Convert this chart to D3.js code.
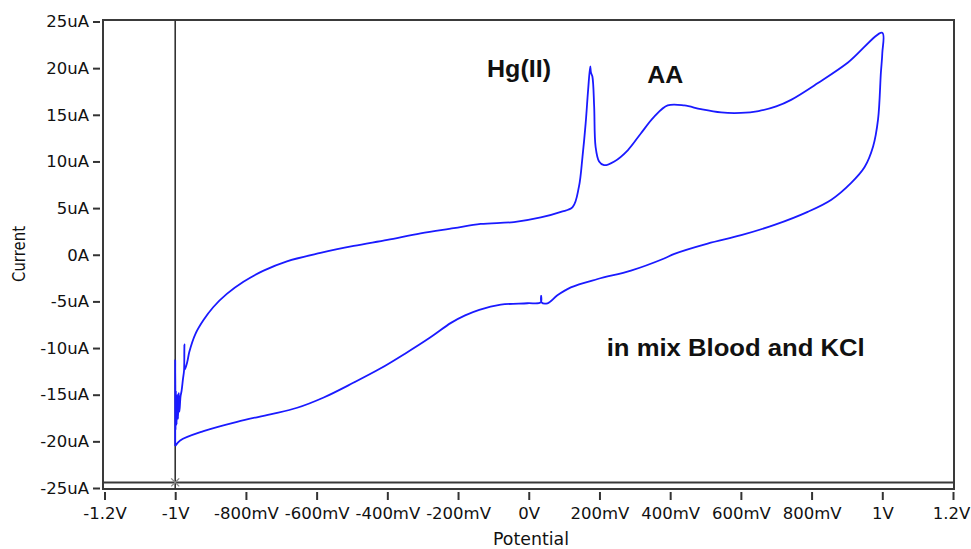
<!DOCTYPE html>
<html>
<head>
<meta charset="utf-8">
<script src="https://cdn.jsdelivr.net/npm/d3@7"></script>
<style>
  html, body { margin: 0; padding: 0; background: #fff; }
  svg { display: block; }
  .tick text { font-family: "DejaVu Sans", sans-serif; font-size: 16.5px; fill: #111; }
  .tick line { stroke: #333; stroke-width: 2px; }
</style>
</head>
<body>
<svg id="chart" width="971" height="549"></svg>
<script>
// Cyclic voltammogram: potential (V) vs current (µA)
const xTickValues = [-1.2, -1.0, -0.8, -0.6, -0.4, -0.2, 0, 0.2, 0.4, 0.6, 0.8, 1.0, 1.2];
const xTickLabels = ["-1.2V", "-1V", "-800mV", "-600mV", "-400mV", "-200mV", "0V",
                     "200mV", "400mV", "600mV", "800mV", "1V", "1.2V"];
const yTickValues = [-25, -20, -15, -10, -5, 0, 5, 10, 15, 20, 25];
const yTickLabels = ["-25uA", "-20uA", "-15uA", "-10uA", "-5uA", "0A",
                     "5uA", "10uA", "15uA", "20uA", "25uA"];

// Forward (anodic) sweep, -1 V -> +1 V, including switching noise at -1 V
const forwardPotential = [
  -1.000, -1.000, -0.999, -0.998, -0.996, -0.994, -0.992, -0.990, -0.988, -0.985,
  -0.982, -0.978, -0.975, -0.974, -0.973, -0.966, -0.960, -0.943, -0.920, -0.892,
  -0.854, -0.807, -0.750, -0.684, -0.589, -0.495, -0.400, -0.306, -0.212, -0.136,
  -0.042, 0.034, 0.091, 0.124, 0.142, 0.152, 0.161, 0.168, 0.174, 0.176,
  0.180, 0.185, 0.189, 0.199, 0.213, 0.242, 0.280, 0.317, 0.355, 0.393,
  0.440, 0.487, 0.544, 0.600, 0.650, 0.700, 0.742, 0.818, 0.903, 1.000
];
const forwardCurrent = [
  -20.5, -11.3, -18.8, -14.6, -18.2, -15.0, -17.6, -14.8, -16.8, -15.2,
  -14.6, -13.3, -12.4, -9.6, -12.3, -11.5, -10.4, -8.5, -7.0, -5.6,
  -4.2, -2.9, -1.7, -0.7, 0.2, 0.95, 1.6, 2.3, 2.85, 3.3,
  3.5, 4.0, 4.6, 5.1, 7.3, 10.5, 14.1, 17.7, 20.2, 19.5,
  19.1, 15.9, 11.6, 10.0, 9.6, 10.0, 11.2, 13.0, 14.8, 16.0,
  16.0, 15.6, 15.25, 15.2, 15.4, 15.9, 16.6, 18.4, 20.6, 23.8
];

// Reverse (cathodic) sweep, +1 V -> -1 V
const reversePotential = [
  1.000, 0.996, 0.988, 0.974, 0.950, 0.912, 0.856, 0.789, 0.695, 0.601,
  0.506, 0.412, 0.383, 0.289, 0.195, 0.119, 0.081, 0.053, 0.036, 0.035,
  0.034, -0.004, -0.079, -0.140, -0.180, -0.220, -0.280, -0.350, -0.420, -0.495,
  -0.580, -0.655, -0.731, -0.825, -0.920, -0.986, -1.000
];
const reverseCurrent = [
  21.6, 19.5, 14.5, 11.6, 9.4, 7.7, 5.9, 4.6, 3.2, 2.1,
  1.2, 0.1, -0.4, -1.7, -2.6, -3.5, -4.35, -5.2, -5.1, -4.4,
  -5.1, -5.2, -5.35, -5.9, -6.5, -7.3, -8.9, -10.6, -12.2, -13.7,
  -15.3, -16.4, -17.1, -17.9, -18.9, -19.9, -20.5
];

// Cursor position (potential, current)
const cursorPotential = -1.0;
const cursorCurrent = -24.4;

// Peak labels and sample note, anchored in data units (V, µA)
const annotations = [
  { text: "Hg(II)", v: -0.118, i: 19.0, width: 64 },
  { text: "AA", v: 0.335, i: 18.4, width: 36 },
  { text: "in mix Blood and KCl", v: 0.2206, i: -10.9, width: 258 }
];

const svg = d3.select("#chart");
const frame = { left: 103, right: 954, top: 20, bottom: 489 };

const x = d3.scaleLinear().domain([-1.2, 1.2]).range([104.5, 953]);
const y = d3.scaleLinear().domain([-25, 25]).range([488, 21.5]);

// Axes
const xAxis = d3.axisBottom(x)
  .tickValues(xTickValues)
  .tickFormat((d, i) => xTickLabels[i])
  .tickSize(8).tickSizeOuter(0).tickPadding(7.4);
const yAxis = d3.axisLeft(y)
  .tickValues(yTickValues)
  .tickFormat((d, i) => yTickLabels[i])
  .tickSize(7).tickSizeOuter(0).tickPadding(4);

svg.append("g").attr("transform", "translate(0,492)").call(xAxis)
  .call(g => g.select(".domain").remove())
  .call(g => g.selectAll(".tick:last-of-type text").attr("dx", -2));
svg.append("g").attr("transform", "translate(100,0)").call(yAxis)
  .call(g => g.select(".domain").remove());

// Axis titles
svg.append("text")
  .attr("x", 531).attr("y", 545)
  .attr("text-anchor", "middle")
  .attr("font-family", "DejaVu Sans, sans-serif")
  .attr("font-size", 18)
  .attr("textLength", 76).attr("lengthAdjust", "spacingAndGlyphs")
  .attr("fill", "#111")
  .text("Potential");

svg.append("text")
  .attr("transform", "translate(25,254) rotate(-90)")
  .attr("text-anchor", "middle")
  .attr("font-family", "DejaVu Sans, sans-serif")
  .attr("font-size", 17)
  .attr("textLength", 56).attr("lengthAdjust", "spacingAndGlyphs")
  .attr("fill", "#111")
  .text("Current");

// Plot frame
svg.append("rect")
  .attr("x", frame.left).attr("y", frame.top)
  .attr("width", frame.right - frame.left)
  .attr("height", frame.bottom - frame.top)
  .attr("fill", "none").attr("stroke", "#3a3a3a").attr("stroke-width", 2);

// Cursor lines
svg.append("line")
  .attr("x1", x(cursorPotential)).attr("x2", x(cursorPotential))
  .attr("y1", frame.top).attr("y2", frame.bottom)
  .attr("stroke", "#333").attr("stroke-width", 1.6);
svg.append("line")
  .attr("x1", frame.left).attr("x2", frame.right)
  .attr("y1", y(cursorCurrent)).attr("y2", y(cursorCurrent))
  .attr("stroke", "#3a3a3a").attr("stroke-width", 2);

// Voltammogram trace
const points = forwardPotential.map((v, k) => [v, forwardCurrent[k]])
  .concat(reversePotential.map((v, k) => [v, reverseCurrent[k]]));
const line = d3.line()
  .x(d => x(d[0])).y(d => y(d[1]))
  .curve(d3.curveCatmullRom.alpha(0.5));
svg.append("path")
  .datum(points)
  .attr("d", line)
  .attr("fill", "none")
  .attr("stroke", "#1a1aff")
  .attr("stroke-width", 1.8)
  .attr("stroke-linejoin", "round");

// Cursor marker
const cx = x(cursorPotential), cy = y(cursorCurrent), s = 4;
svg.append("path")
  .attr("d", `M${cx - s},${cy - s}L${cx + s},${cy + s}M${cx - s},${cy + s}L${cx + s},${cy - s}`)
  .attr("stroke", "#888").attr("stroke-width", 1.3).attr("fill", "none");

// Annotations
svg.selectAll("text.note")
  .data(annotations)
  .join("text")
  .attr("class", "note")
  .attr("x", d => x(d.v)).attr("y", d => y(d.i))
  .attr("font-family", "Liberation Sans, Arial, sans-serif")
  .attr("font-weight", "bold")
  .attr("font-size", 23)
  .attr("textLength", d => d.width).attr("lengthAdjust", "spacingAndGlyphs")
  .attr("fill", "#111")
  .text(d => d.text);
</script>
</body>
</html>
